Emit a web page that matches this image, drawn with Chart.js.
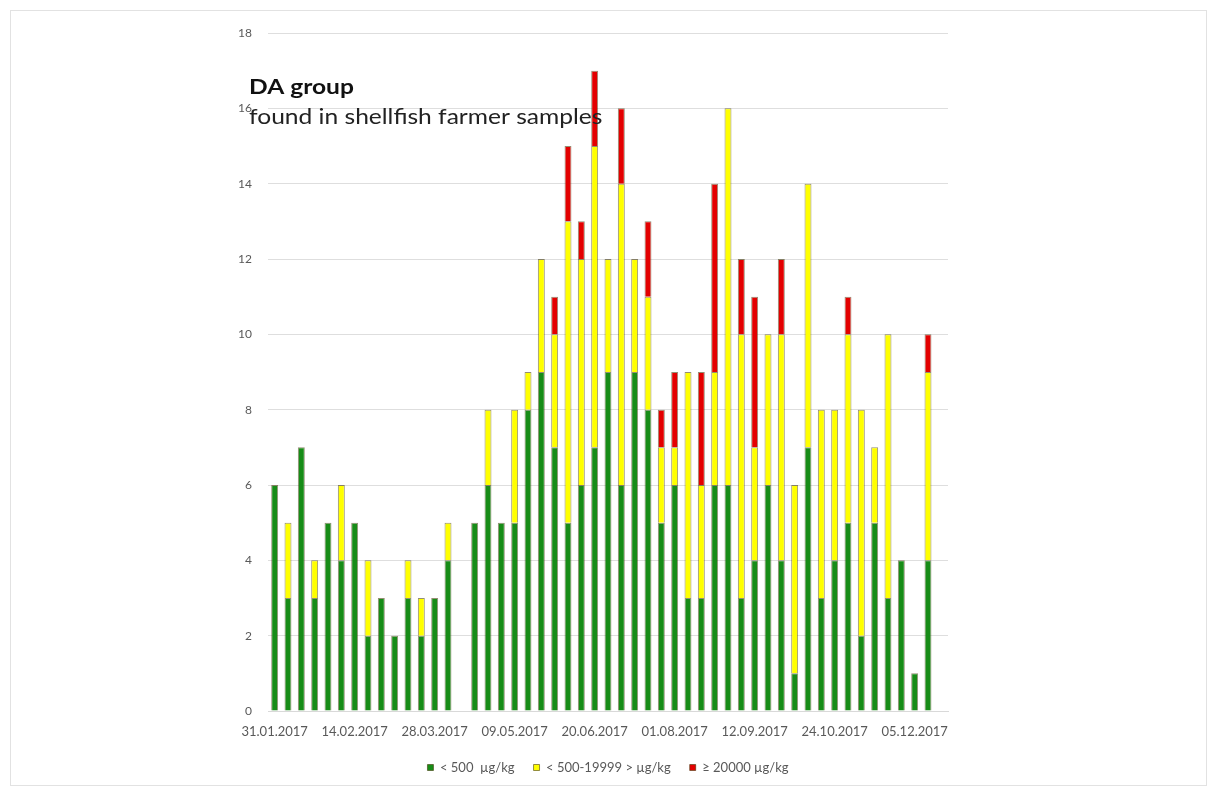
<!DOCTYPE html>
<html>
<head>
<meta charset="utf-8">
<script src="https://cdn.jsdelivr.net/npm/chart.js@4/dist/chart.umd.min.js"></script>
<style>
  html, body { margin: 0; padding: 0; background: #fff; }
  #wrap { position: relative; width: 1213px; height: 788px; overflow: hidden; }
  #frame { position: absolute; left: 10px; top: 10px; width: 1197px; height: 776px;
           border: 1px solid #e2e2e2; box-sizing: border-box; }
  #c { position: absolute; left: 0; top: 0; }
</style>
</head>
<body>
<div id="wrap">
  <div id="frame"></div>
  <canvas id="c" width="1213" height="788"></canvas>
</div>
<script>
// Sampling dates shown on the axis (one label every sixth sample)
const tickDates = ['31.01.2017', '14.02.2017', '28.03.2017', '09.05.2017', '20.06.2017',
                   '01.08.2017', '12.09.2017', '24.10.2017', '05.12.2017'];
const tickEvery = 6;

// Number of samples per concentration class (null = no sampling that slot)
const green  = [6, 3, 7, 3, 5, 4, 5, 2, 3, 2, 3, 2, 3, 4, null, 5, 6, 5, 5, 8, 9, 7, 5, 6, 7,
                9, 6, 9, 8, 5, 6, 3, 3, 6, 6, 3, 4, 6, 4, 1, 7, 3, 4, 5, 2, 5, 3, 4, 1, 4, null];
const yellow = [0, 2, 0, 1, 0, 2, 0, 2, 0, 0, 1, 1, 0, 1, null, 0, 2, 0, 3, 1, 3, 3, 8, 6, 8,
                3, 8, 3, 3, 2, 1, 6, 3, 3, 10, 7, 3, 4, 6, 5, 7, 5, 4, 5, 6, 2, 7, 0, 0, 5, null];
const red    = [0, 0, 0, 0, 0, 0, 0, 0, 0, 0, 0, 0, 0, 0, null, 0, 0, 0, 0, 0, 0, 1, 2, 1, 2,
                0, 2, 0, 2, 1, 2, 0, 3, 5, 0, 2, 4, 0, 2, 0, 0, 0, 0, 1, 0, 0, 0, 0, 0, 1, null];

const seriesNames = ['< 500  µg/kg', '< 500-19999 > µg/kg', '≥ 20000 µg/kg'];
const titleLines = ['DA group', 'found in shellfish farmer samples'];

const categories = green.map((_, i) => (i % tickEvery === 0 && tickDates[i / tickEvery]) || '');

const FONT = 'Lato, "Open Sans", sans-serif';
const barEdge = 'rgba(60, 50, 0, 0.55)';

// Heading written inside the plot area (slightly widened lettering)
const headingPlugin = {
  id: 'heading',
  afterDatasetsDraw(chart) {
    const ctx = chart.ctx;
    ctx.save();
    ctx.translate(249, 0);
    ctx.scale(1.17, 1);
    ctx.textAlign = 'left';
    ctx.textBaseline = 'alphabetic';
    ctx.fillStyle = '#111';
    ctx.font = 'bold 21px ' + FONT;
    ctx.fillText(titleLines[0], 0, 94);
    ctx.fillStyle = '#222';
    ctx.font = '21px ' + FONT;
    ctx.fillText(titleLines[1], 0, 124);
    ctx.restore();
  }
};

const commonBar = {
  barPercentage: 0.52,
  categoryPercentage: 1.0,
  borderColor: barEdge,
  borderWidth: 1,
  borderSkipped: 'bottom'
};

new Chart(document.getElementById('c'), {
  type: 'bar',
  data: {
    labels: categories,
    datasets: [
      Object.assign({ label: seriesNames[0], data: green,  backgroundColor: '#178c17' }, commonBar),
      Object.assign({ label: seriesNames[1], data: yellow, backgroundColor: '#ffff00' }, commonBar),
      Object.assign({ label: seriesNames[2], data: red,    backgroundColor: '#e30000' }, commonBar)
    ]
  },
  options: {
    responsive: false,
    animation: false,
    events: [],
    layout: { padding: { left: 200, right: 265, top: 33, bottom: 4 } },
    scales: {
      x: {
        stacked: true,
        grid: { display: false },
        border: { color: '#d9d9d9' },
        ticks: {
          autoSkip: false, maxRotation: 0, minRotation: 0,
          color: '#595959', font: { family: FONT, size: 13 }, padding: 5
        },
        afterFit(s) { s.height = 31; }
      },
      y: {
        stacked: true,
        min: 0, max: 18,
        grid: { color: '#dedede', drawTicks: false },
        border: { display: false },
        ticks: {
          stepSize: 2,
          color: '#595959', font: { family: FONT, size: 12 }, padding: 16
        },
        afterFit(s) { s.width = 68; }
      }
    },
    plugins: {
      legend: {
        position: 'bottom',
        fullSize: false,
        labels: {
          boxWidth: 6, boxHeight: 6, padding: 19,
          color: '#595959', font: { family: FONT, size: 13 }
        }
      },
      tooltip: { enabled: false }
    }
  },
  plugins: [headingPlugin]
});
</script>
</body>
</html>
